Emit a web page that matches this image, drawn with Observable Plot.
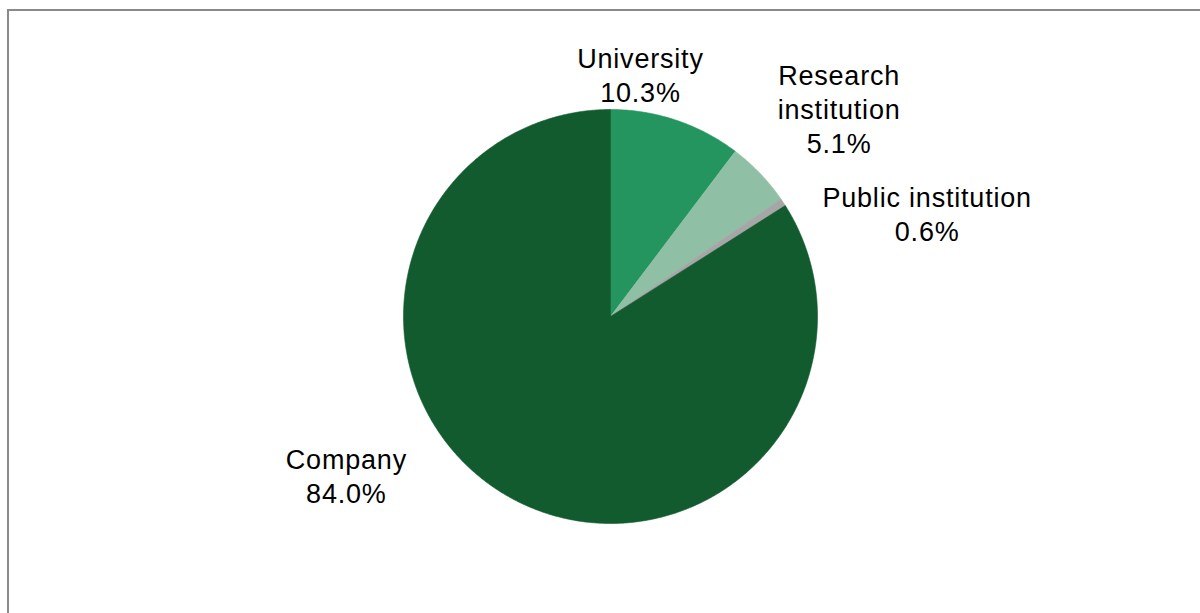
<!DOCTYPE html>
<html>
<head>
<meta charset="utf-8">
<script src="https://cdn.jsdelivr.net/npm/d3@7"></script>
<script src="https://cdn.jsdelivr.net/npm/@observablehq/plot@0.6"></script>
<style>
  html, body { margin: 0; padding: 0; background: #fff; overflow: hidden; }
  #chart svg { overflow: hidden; display: block; }
  #chart svg text { letter-spacing: 0.8px; }
</style>
</head>
<body>
<div id="chart"></div>
<script>
// ---- data ----
const categories = ["University", "Research institution", "Public institution", "Company"];
const labelLines = ["University", "Research\ninstitution", "Public institution", "Company"];
const shares = [10.3, 5.1, 0.6, 84.0];

// ---- style / layout ----
const sliceColors = ["#24955f", "#8fc0a6", "#a6a6a6", "#115b2f"];
const W = 1200, H = 613;
const cx = 610, cy = 316, r = 207;          // pie centre and radius in pixels
const labelRadius = 1.3;                      // in pie radii
const labelNudge = [[-55.6, 13], [34.2, -22.5], [92.2, 45], [-134.5, -77]]; // px
const fontSize = 27;

// ---- derived geometry (unit-radius coordinates, y up) ----
const total = d3.sum(shares);
let cum = 0;
const slices = shares.map((v, i) => {
  const a0 = cum / total * 2 * Math.PI;
  cum += v;
  const a1 = cum / total * 2 * Math.PI;
  const n = Math.max(2, Math.ceil((a1 - a0) / (Math.PI / 360)));
  const pts = [{x: 0, y: 0}];
  for (let k = 0; k <= n; k++) {
    const a = a0 + (a1 - a0) * k / n;
    pts.push({x: Math.sin(a), y: Math.cos(a)});
  }
  pts.push({x: 0, y: 0});
  const am = (a0 + a1) / 2;
  return {
    name: categories[i], value: v, pts, color: sliceColors[i],
    lx: labelRadius * Math.sin(am) + labelNudge[i][0] / r,
    ly: labelRadius * Math.cos(am) - labelNudge[i][1] / r,
    label: labelLines[i] + "\n" + v.toFixed(1) + "%"
  };
});

const chart = Plot.plot({
  width: W,
  height: H,
  margin: 0,
  style: {fontFamily: "'Liberation Sans', Arial, sans-serif", fontSize: fontSize + "px", background: "#fff", color: "#000"},
  x: {domain: [-cx / r, (W - cx) / r], range: [0, W], axis: null},
  y: {domain: [-(H - cy) / r, cy / r], range: [H, 0], axis: null},
  marks: [
    ...slices.map(s => Plot.line(s.pts, {x: "x", y: "y", fill: s.color, stroke: s.color, strokeWidth: 0.6, curve: "linear"})),
    Plot.text(slices, {x: "lx", y: "ly", text: "label", fill: "#000", fontSize: fontSize, lineHeight: 34 / fontSize, textAnchor: "middle", lineAnchor: "middle"}),
    Plot.frame({stroke: "#8a8a8a", strokeWidth: 2, insetLeft: 7.5, insetTop: 9.5, insetRight: -20, insetBottom: -20})
  ]
});
document.getElementById("chart").appendChild(chart);
</script>
</body>
</html>
